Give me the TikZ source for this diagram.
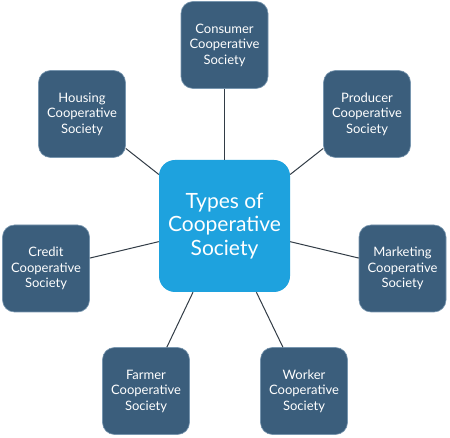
\documentclass[tikz,border=0pt]{standalone}
\usepackage{fontspec}
\setmainfont{Lato}
\definecolor{boxblue}{RGB}{59,94,124}
\definecolor{boxedge}{RGB}{120,150,175}
\definecolor{centerblue}{RGB}{30,162,222}
\definecolor{linecol}{RGB}{50,60,70}
\tikzset{
  leaf/.style={rounded corners=12pt, fill=boxblue, draw=boxedge, line width=0.6pt,
    minimum width=87pt, minimum height=87pt, text=white, align=center,
    font=\fontsize{13}{15.5}\selectfont, inner sep=0pt},
  hub/.style={rounded corners=16pt, fill=centerblue, draw=none,
    minimum width=131pt, minimum height=132pt, text=white, align=center,
    font=\fontsize{21}{23.5}\selectfont, inner sep=0pt},
  link/.style={draw=linecol, line width=1pt}
}
\begin{document}
\begin{tikzpicture}[x=1pt,y=-1pt]
\useasboundingbox (0,0) rectangle (450,438);
\fill[white] (0,0) rectangle (450,438);
\node[hub] (c) at (224.5,226) {Types of\\Cooperative\\Society};
\node[leaf] (cons) at (224.5,45) {Consumer\\Cooperative\\Society};
\node[leaf] (hous) at (82,114) {Housing\\Cooperative\\Society};
\node[leaf] (prod) at (367,114) {Producer\\Cooperative\\Society};
\node[leaf] (cred) at (46,268.5) {Credit\\Cooperative\\Society};
\node[leaf] (mark) at (402.5,268.5) {Marketing\\Cooperative\\Society};
\node[leaf] (farm) at (146,391) {Farmer\\Cooperative\\Society};
\node[leaf] (work) at (304,391) {Worker\\Cooperative\\Society};
\draw[link] (cons) -- (c);
\draw[link] (hous) -- (c);
\draw[link] (prod) -- (c);
\draw[link] (cred) -- (c);
\draw[link] (mark) -- (c);
\draw[link] (farm) -- (c);
\draw[link] (work) -- (c);
\end{tikzpicture}
\end{document}
